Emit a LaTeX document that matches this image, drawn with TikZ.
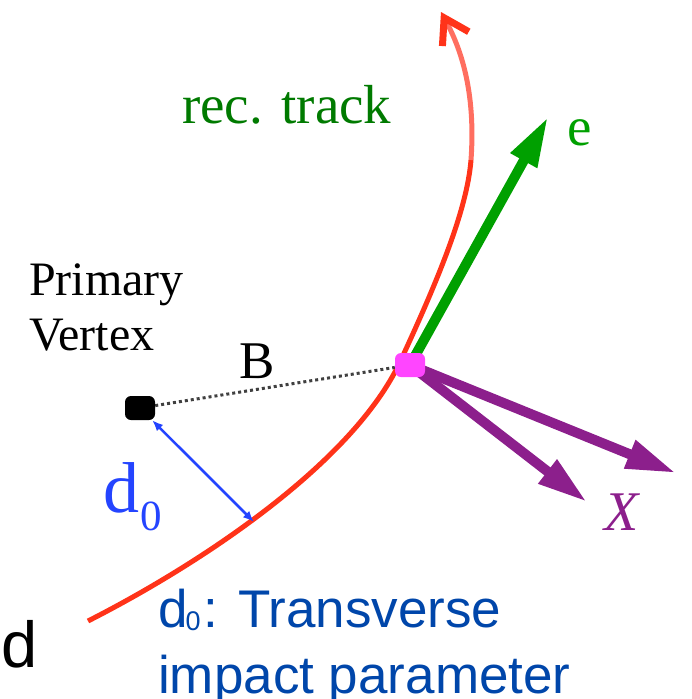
\documentclass[tikz,border=0pt]{standalone}
\usepackage{fontspec}
\setmainfont{Liberation Serif}
\setsansfont{Liberation Sans}
\usepackage{xcolor}
\usepackage{tikz}
\usetikzlibrary{arrows.meta,backgrounds}
\definecolor{iptrack}{HTML}{FF3319}
\definecolor{iptrackfade}{HTML}{FF6E60}
\definecolor{ipgreen}{HTML}{00A000}
\definecolor{ipdarkgreen}{HTML}{007A00}
\definecolor{ippurple}{HTML}{8C1F8C}
\definecolor{ipmagenta}{HTML}{FF45FF}
\definecolor{ipblue}{HTML}{2444FF}
\definecolor{ipnavy}{HTML}{0046AA}
\definecolor{ipgrey}{HTML}{404040}

\begin{document}
\begin{tikzpicture}[x=1pt,y=-1pt,
  vtx/.style={rectangle,rounded corners=6pt,minimum width=30pt,minimum height=24pt,inner sep=0pt},
  lbl/.style={anchor=base west,inner sep=0pt,align=left},
  track/.style={draw=iptrack,line width=5pt},
  trackfade/.style={draw=iptrackfade,line width=5pt,-{Straight Barb[length=24pt,width=30pt,line width=7pt,color=iptrack]}},
  eline/.style={draw=ipgreen,line width=10pt,-{Triangle[length=50pt,width=28pt]}},
  xline/.style={draw=ippurple,line width=10pt,-{Triangle[length=50pt,width=28pt]}},
  bline/.style={draw=ipgrey,line width=3pt,dash pattern=on 3pt off 3pt},
  dzero/.style={draw=ipblue,line width=2.5pt,{Latex[length=11pt,width=9pt]}-{Latex[length=11pt,width=9pt]}}
]
\useasboundingbox (0,0) rectangle (692,699);

% vertices
\node[vtx,fill=black] (pv) at (140,408) {};
\node[vtx,fill=ipmagenta] (sv) at (410,365) {};
\coordinate (tlow) at (88,621);
\coordinate (tmid) at (400,362);
\coordinate (tbend) at (471,160);
\coordinate (ttop) at (441,12);
\coordinate (foot) at (254,522);
\coordinate (etip) at (548,117);
\coordinate (xa) at (587,502);
\coordinate (xb) at (676,473);

\begin{scope}[on background layer]
\draw[track] (tlow) .. controls (204,562) and (353,462) .. (tmid)
  .. controls (438,280) and (467,210) .. (tbend);
\draw[trackfade] (tbend) .. controls (476,90) and (460,47) .. (ttop);
\draw[eline] (sv.center) -- (etip);
\draw[xline] (sv.center) -- (xa);
\draw[xline] (sv.center) -- (xb);
\draw[bline] (pv) -- (sv);
\draw[dzero] (pv) -- (foot);
\end{scope}

% labels
\node[lbl,text=ipdarkgreen,font=\fontsize{55}{66}\selectfont] (rec) at (182,123) {rec. track};
\node[lbl,text=ipgreen,font=\fontsize{55}{66}\selectfont] (elab) at (567,145) {e};
\node[lbl,font=\fontsize{48}{55}\selectfont] (pvlab) at (29,350) {Primary\\Vertex};
\node[lbl,font=\fontsize{53}{64}\selectfont] (blab) at (239,378) {B};
\node[lbl,text=ipblue,font=\fontsize{72}{80}\selectfont] (d0lab) at (103,512) {d\kern1pt\raisebox{-18pt}{\fontsize{43}{43}\selectfont 0}};
\node[lbl,text=ippurple,font=\fontsize{56}{64}\selectfont\itshape] (xlab) at (604,530) {X};
\node[lbl,font=\sffamily\fontsize{65}{70}\selectfont] (dcut) at (1,667) {d};
\node[lbl,text=ipnavy,font=\sffamily\fontsize{53}{66}\selectfont] (note) at (158,693) {d\kern-2pt\raisebox{-3pt}{\fontsize{27}{27}\selectfont 0}\kern3pt: Transverse\\impact parameter};
\end{tikzpicture}
\end{document}
